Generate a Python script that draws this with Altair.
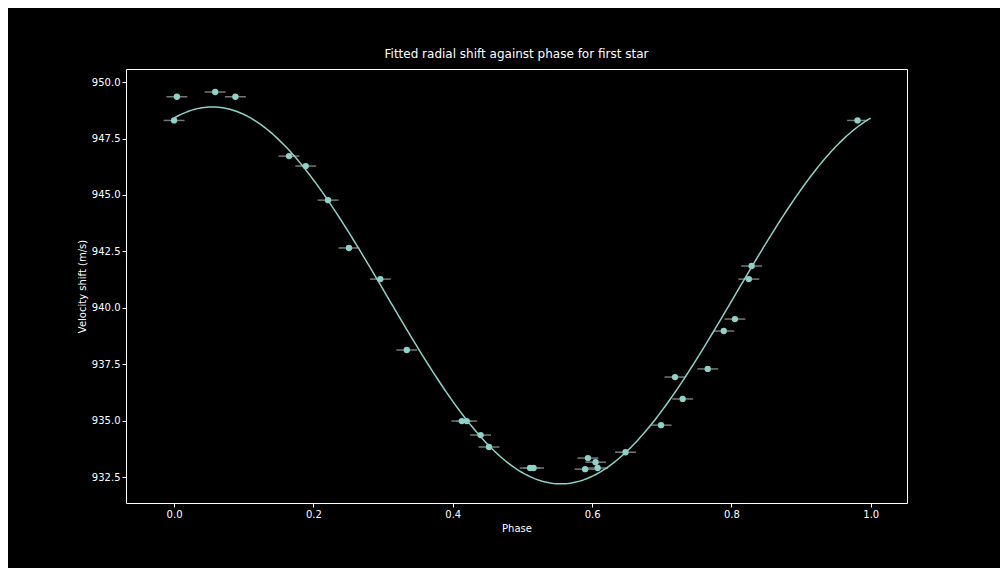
import altair as alt
import pandas as pd
import numpy as np

phase = [0.000, 0.004, 0.059, 0.088, 0.165, 0.189, 0.221, 0.251, 0.296, 0.334,
         0.413, 0.420, 0.440, 0.452, 0.511, 0.516, 0.590, 0.594, 0.605, 0.608,
         0.648, 0.699, 0.719, 0.730, 0.766, 0.789, 0.805, 0.825, 0.829, 0.981]
shift = [948.30, 949.35, 949.56, 949.35, 946.72, 946.28, 944.77, 942.65, 941.27, 938.13,
         934.98, 934.98, 934.36, 933.83, 932.90, 932.90, 932.85, 933.34, 933.16, 932.90,
         933.60, 934.80, 936.93, 935.96, 937.29, 938.97, 939.50, 941.27, 941.85, 948.30]
phase_err = 0.015

# fitted sinusoid parameters
fit_mean, fit_amp, fit_peak = 940.55, 8.35, 0.055

pts = pd.DataFrame({"phase": phase, "shift": shift})
pts["lo"] = pts["phase"] - phase_err
pts["hi"] = pts["phase"] + phase_err

grid = np.linspace(0, 1, 300)
fit = pd.DataFrame({"phase": grid,
                    "shift": fit_mean + fit_amp * np.cos(2 * np.pi * (grid - fit_peak))})

teal = "#8dd3c7"
xs = alt.Scale(domain=[-0.069, 1.052], nice=False, zero=False)
ys = alt.Scale(domain=[931.35, 950.58], nice=False, zero=False)

err = alt.Chart(pts).mark_rule(color="#777777", strokeWidth=1.5).encode(
    x=alt.X("lo:Q", scale=xs), x2="hi:Q", y=alt.Y("shift:Q", scale=ys))

line = alt.Chart(fit).mark_line(color=teal, strokeWidth=1.5).encode(
    x=alt.X("phase:Q", scale=xs,
            axis=alt.Axis(title="Phase", values=[0, 0.2, 0.4, 0.6, 0.8, 1.0], format=".1f")),
    y=alt.Y("shift:Q", scale=ys,
            axis=alt.Axis(title="Velocity shift (m/s)",
                          values=[932.5, 935, 937.5, 940, 942.5, 945, 947.5, 950], format=".1f")))

dots = alt.Chart(pts).mark_circle(color=teal, size=40, opacity=1).encode(
    x=alt.X("phase:Q", scale=xs), y=alt.Y("shift:Q", scale=ys))

chart = (err + line + dots).properties(
    width=781, height=434,
    title="Fitted radial shift against phase for first star",
    background="black",
    autosize=alt.AutoSizeParams(type="none"),
    padding={"left": 118, "top": 61, "right": 93, "bottom": 65},
).configure_view(stroke="white", strokeWidth=1, fill="black").configure_axis(
    grid=False, domain=False, tickColor="white", labelColor="white", titleColor="white",
    labelFont="DejaVu Sans", titleFont="DejaVu Sans", labelFontSize=10, titleFontSize=10,
    titleFontWeight="normal", tickSize=4,
).configure_title(color="white", font="DejaVu Sans", fontSize=12, fontWeight="normal", offset=8)

chart.save("out.html", embed_options={"renderer": "svg", "actions": False})
